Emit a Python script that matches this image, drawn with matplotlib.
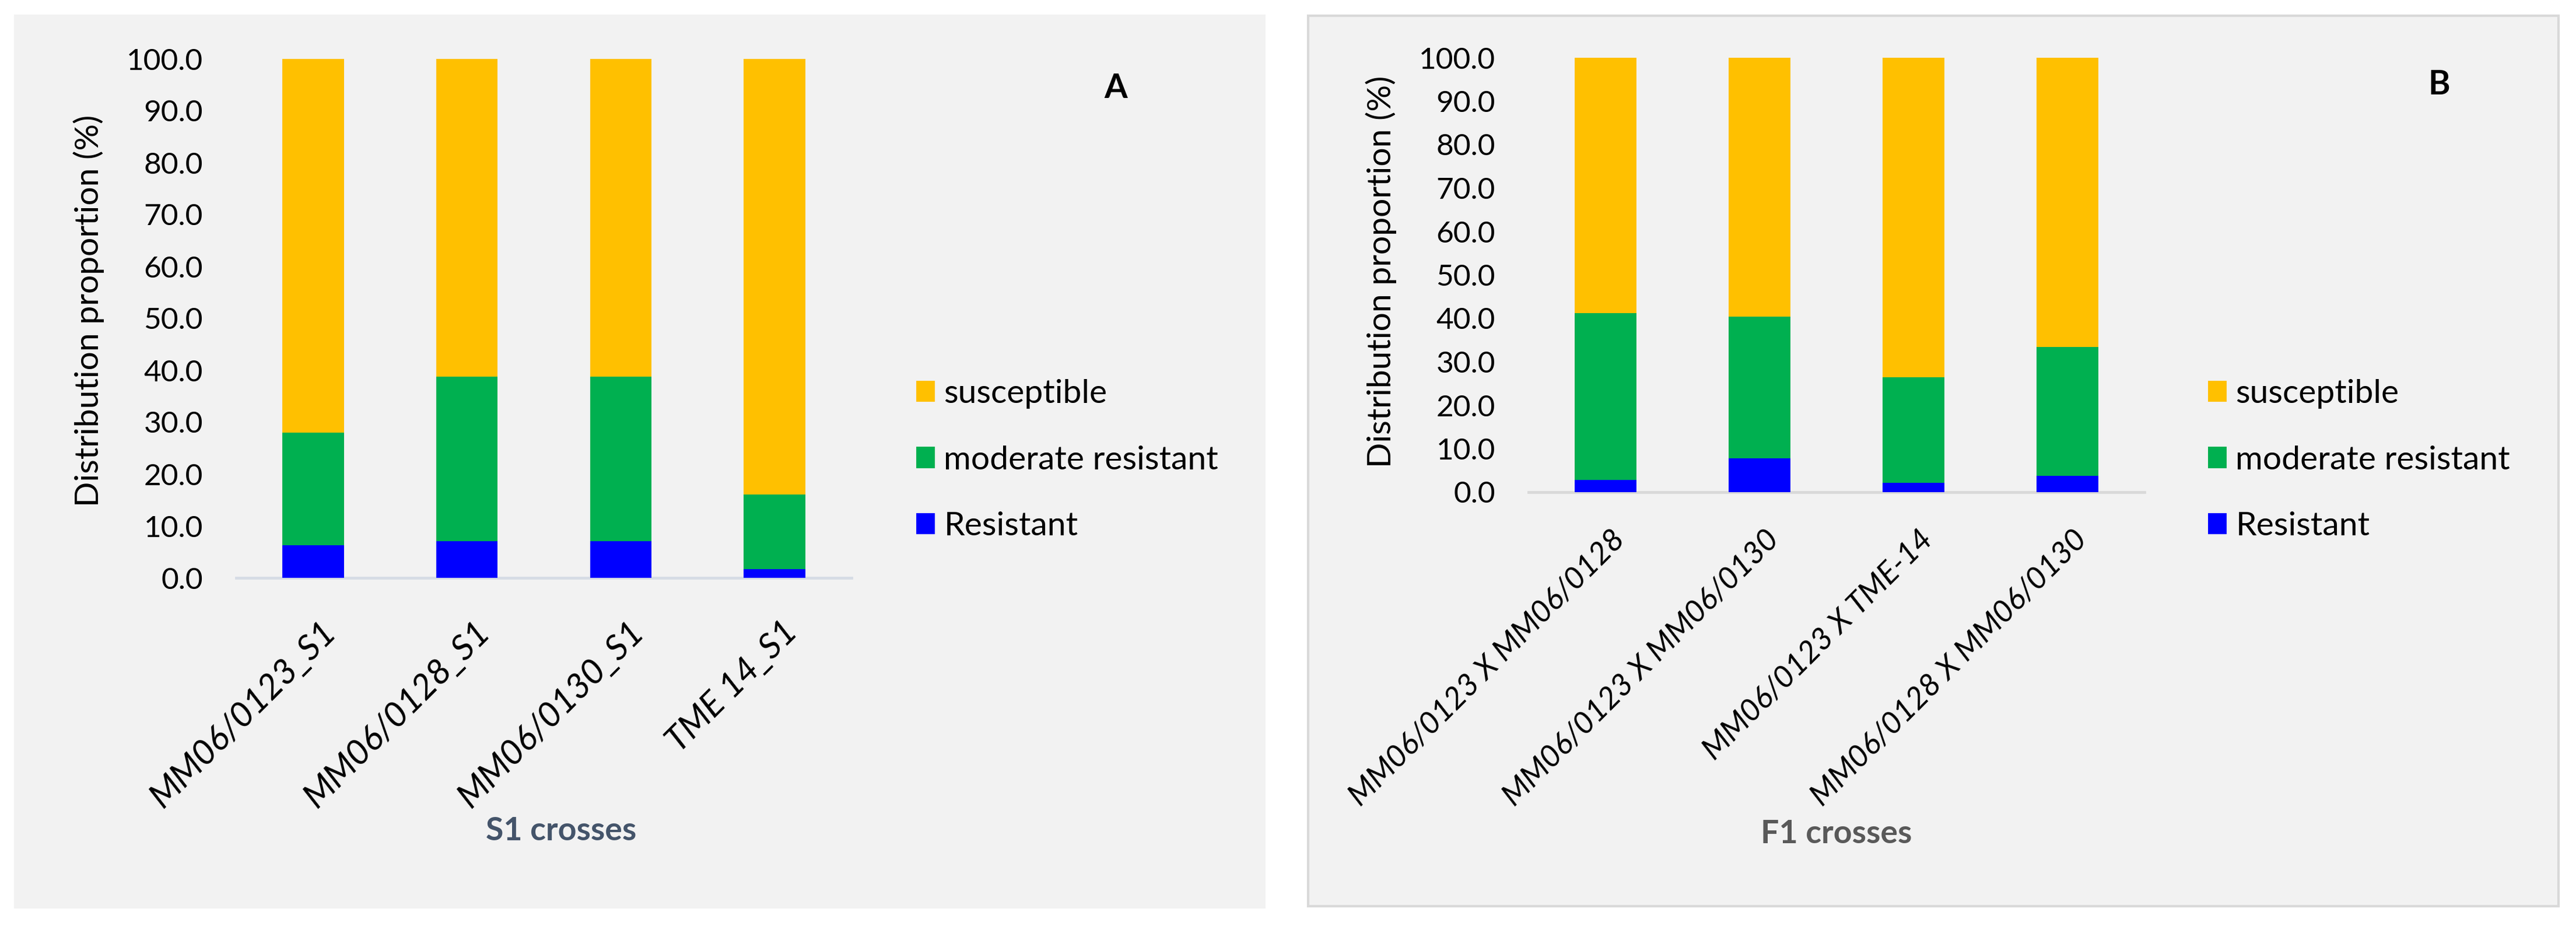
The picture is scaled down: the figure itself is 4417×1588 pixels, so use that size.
import numpy as np
import matplotlib
matplotlib.use("Agg")
import matplotlib.pyplot as plt
from matplotlib import font_manager
from matplotlib.patches import Rectangle
from matplotlib.transforms import ScaledTranslation

plt.rcParams['font.family'] = ['Lato', 'DejaVu Sans']

# pick a family that really has an italic face for the category labels
italic_family = 'DejaVu Sans'
for fam in ['Lato', 'Open Sans', 'Noto Sans', 'Liberation Sans']:
    path = font_manager.findfont(font_manager.FontProperties(family=fam, style='italic'),
                                 fallback_to_default=False)
    if fam.split()[0].lower() in path.lower() and ('italic' in path.lower() or 'oblique' in path.lower()):
        italic_family = fam
        break

# panel A - S1 crosses
s1_names = ["MM06/0123_S1", "MM06/0128_S1", "MM06/0130_S1", "TME 14_S1"]
s1_resistant = [6.3, 7.1, 7.1, 1.7]
s1_moderate = [21.7, 31.7, 31.7, 14.4]
s1_susceptible = [72.0, 61.2, 61.2, 83.9]

# panel B - F1 crosses
f1_names = ["MM06/0123 X MM06/0128", "MM06/0123 X MM06/0130",
            "MM06/0123 X TME-14", "MM06/0128 X MM06/0130"]
f1_resistant = [2.8, 7.8, 2.2, 3.8]
f1_moderate = [38.4, 32.6, 24.3, 29.6]
f1_susceptible = [58.8, 59.6, 73.5, 66.6]

series_names = ["Resistant", "moderate resistant", "susceptible"]
colors = ["#0000FF", "#00B050", "#FFC000"]

W, H = 4417, 1588
fig = plt.figure(figsize=(W / 100, H / 100), dpi=100)
fig.patch.set_facecolor("white")

# panel backgrounds (pixel coords -> figure fraction)
def px_rect(x0, y0, x1, y1, **kw):
    return Rectangle((x0 / W, 1 - y1 / H), (x1 - x0) / W, (y1 - y0) / H,
                     transform=fig.transFigure, **kw)

fig.patches.append(px_rect(24, 25, 2170, 1558, facecolor="#F2F2F2", edgecolor="none", zorder=-2))
fig.patches.append(px_rect(2243, 27, 4387, 1554, facecolor="#F2F2F2", edgecolor="#D9D9D9",
                           linewidth=3, zorder=-2))


def draw_panel(rect, ylab_xy, names, res, mod, sus, base_color, xlab, xlab_color, letter,
               letter_xy, leg_xy, lab_dx, lab_dy, xtick_size):
    ax = fig.add_axes(rect)
    ax.set_facecolor("none")
    x = np.arange(len(names))
    res = np.array(res)
    mod = np.array(mod)
    sus = np.array(sus)
    bars = []
    bars.append(ax.bar(x, res, width=0.4, color=colors[0], label=series_names[0], zorder=3))
    bars.append(ax.bar(x, mod, width=0.4, bottom=res, color=colors[1], label=series_names[1], zorder=3))
    bars.append(ax.bar(x, sus, width=0.4, bottom=res + mod, color=colors[2], label=series_names[2], zorder=3))
    ax.set_xlim(-0.5, len(names) - 0.5)
    ax.set_ylim(0, 100)
    ax.set_yticks(np.arange(0, 101, 10))
    ax.set_yticklabels([f"{v:.1f}" for v in np.arange(0, 101, 10)])
    for s in ["top", "right", "left"]:
        ax.spines[s].set_visible(False)
    ax.spines["bottom"].set_color(base_color)
    ax.spines["bottom"].set_linewidth(3.5)
    ax.spines["bottom"].set_zorder(2)
    ax.tick_params(axis="y", length=0, pad=41, labelsize=37, labelcolor="black")
    ax.tick_params(axis="x", length=0, pad=0)
    ax.set_xticks(x)
    ax.set_xticklabels(names, rotation=45, ha="right", va="center", rotation_mode="anchor",
                       fontsize=xtick_size, style="italic", family=italic_family, color="black")
    # shift rotated labels so their ends sit like the excel ones
    off = ScaledTranslation(lab_dx / 100, -lab_dy / 100, fig.dpi_scale_trans)
    for lab in ax.get_xticklabels():
        lab.set_transform(lab.get_transform() + off)

    ax.set_ylabel("Distribution proportion (%)", fontsize=41, color="black")
    ax.yaxis.label.set_va("center")
    ax.yaxis.set_label_coords(ylab_xy[0], ylab_xy[1])

    leg = ax.legend(handles=bars[::-1], loc="upper left",
                    bbox_to_anchor=(leg_xy[0] / W, 1 - leg_xy[1] / H),
                    bbox_transform=fig.transFigure, frameon=False, fontsize=41,
                    handlelength=0.56, handleheight=0.6, handletextpad=0.27,
                    labelspacing=1.10, borderpad=0, borderaxespad=0)
    for t in leg.get_texts():
        t.set_color("black")

    fig.text(xlab[1] / W, 1 - xlab[2] / H, xlab[0], fontsize=40, fontweight="bold",
             color=xlab_color, ha="center", va="center")
    fig.text(letter_xy[0] / W, 1 - letter_xy[1] / H, letter, fontsize=41, fontweight="bold",
             color="black", ha="center", va="center")
    return ax


# axes rects: left, bottom, width, height (figure fraction)
rect_a = [405 / W, 1 - 991 / H, 1055 / W, 890 / H]
rect_b = [2621 / W, 1 - 844 / H, 1056 / W, 745 / H]

draw_panel(rect_a, (-0.2398, 0.515), s1_names, s1_resistant, s1_moderate, s1_susceptible,
           "#D6DCE5", ("S1 crosses", 962, 1425), "#44546A", "A", (1913, 152),
           (1571, 650), 30, 84, 43)
draw_panel(rect_b, (-0.2396, 0.507), f1_names, f1_resistant, f1_moderate, f1_susceptible,
           "#D9D9D9", ("F1 crosses", 3149, 1430), "#595959", "B", (4182, 145),
           (3786, 650), 25, 73, 38)

fig.savefig("out.png", dpi=100, facecolor="white")
